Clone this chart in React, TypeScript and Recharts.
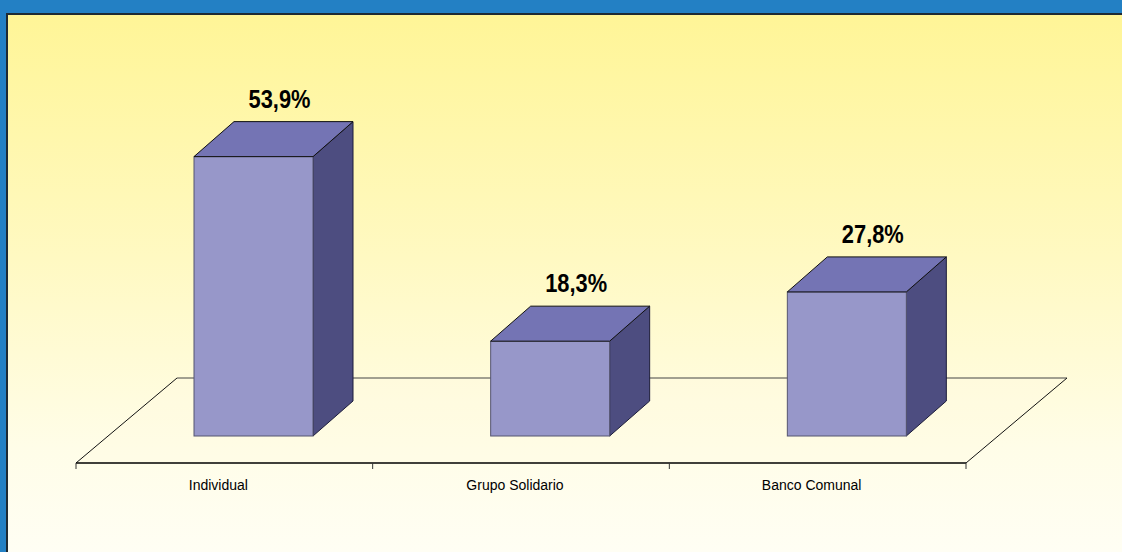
import { BarChart, Bar, XAxis, YAxis, LabelList } from "recharts";

const categories = ["Individual", "Grupo Solidario", "Banco Comunal"];
const shares = [53.9, 18.3, 27.8];

const data = categories.map((name, i) => ({ name, value: shares[i] }));

const W = 1122;
const H = 552;
const PLOT_LEFT = 76;
const PLOT_RIGHT = 966;
const PLOT_TOP = 125;
const PLOT_BOTTOM = 436;
const AXIS_H = 30;

// floor parallelogram
const FLOOR_Y = 463;
const FLOOR_DX = 101;
const FLOOR_DY = 85;

// bar depth
const SHIFT = 29;
const DX = 40;
const DY = 35;

const FONT = "'Liberation Sans', Arial, sans-serif";

function Box3D(props: any) {
  const { x, y, width, height } = props;
  if (height == null || width == null) return null;
  const fx = x + SHIFT;
  const r = fx + width;
  const b = y + height;
  return (
    <g>
      <polygon
        points={`${r},${y} ${r + DX},${y - DY} ${r + DX},${b - DY} ${r},${b}`}
        fill="#4d4d80"
        stroke="#1c1c3a"
        strokeWidth={1}
      />
      <rect x={fx} y={y} width={width} height={height} fill="#9797c9" stroke="#555570" strokeWidth={1} />
      <polygon
        points={`${fx},${y} ${fx + DX},${y - DY} ${r + DX},${y - DY} ${r},${y}`}
        fill="#7474b4"
        stroke="#111"
        strokeWidth={1}
      />
    </g>
  );
}

function ValueLabel(props: any) {
  const { x, y, width, value } = props;
  const txt = Number(value).toFixed(1).replace(".", ",") + "%";
  const cx = x + width / 2 + SHIFT + 26;
  const cy = y - DY - 14;
  return (
    <text
      x={cx}
      y={cy}
      transform={`translate(${cx} ${cy}) scale(0.95 1.1) translate(${-cx} ${-cy})`}
      textAnchor="middle"
      fontFamily={FONT}
      fontWeight="bold"
      fontSize={23}
      fill="#000"
    >
      {txt}
    </text>
  );
}

function CatTick(props: any) {
  const { x, payload } = props;
  return (
    <text x={x - 6} y={FLOOR_Y + 27} textAnchor="middle" fontFamily={FONT} fontSize={14} fill="#000">
      {payload.value}
    </text>
  );
}

function Floor() {
  const step = (PLOT_RIGHT - PLOT_LEFT) / categories.length;
  const ticks = Array.from({ length: categories.length + 1 }, (_, i) => PLOT_LEFT + i * step);
  const bl = PLOT_LEFT + FLOOR_DX;
  const br = PLOT_RIGHT + FLOOR_DX;
  const by = FLOOR_Y - FLOOR_DY;
  return (
    <svg width={W} height={H} style={{ position: "absolute", left: 0, top: 0 }}>
      <polygon
        points={`${PLOT_LEFT},${FLOOR_Y} ${PLOT_RIGHT},${FLOOR_Y} ${br},${by} ${bl},${by}`}
        fill="#fffbe0"
        fillOpacity={0.4}
        stroke="none"
      />
      <line x1={bl} y1={by} x2={br} y2={by} stroke="#444" strokeWidth={1} />
      <line x1={PLOT_LEFT} y1={FLOOR_Y} x2={bl} y2={by} stroke="#111" strokeWidth={1} />
      <line x1={PLOT_RIGHT} y1={FLOOR_Y} x2={br} y2={by} stroke="#111" strokeWidth={1} />
      <line x1={PLOT_LEFT} y1={FLOOR_Y} x2={PLOT_RIGHT} y2={FLOOR_Y} stroke="#000" strokeWidth={1.5} />
      {ticks.map((t, i) => (
        <line key={i} x1={t} y1={FLOOR_Y} x2={t} y2={FLOOR_Y + 6} stroke="#333" strokeWidth={1} />
      ))}
    </svg>
  );
}

export default function App() {
  return (
    <div style={{ position: "absolute", left: 0, top: 0, width: W, height: H, background: "#2380c4", overflow: "hidden" }}>
      <div
        style={{
          position: "absolute",
          left: 6,
          top: 13,
          right: -4,
          bottom: -4,
          borderTop: "2px solid #1e2a33",
          borderLeft: "2px solid #1e2a33",
          background: "linear-gradient(to bottom, #fff597 0%, #fff9c2 45%, #fffde8 80%, #fffef4 100%)",
        }}
      />
      <Floor />
      <div style={{ position: "absolute", left: 0, top: 0 }}>
        <BarChart
          width={W}
          height={H}
          data={data}
          margin={{ top: PLOT_TOP, left: PLOT_LEFT, right: W - PLOT_RIGHT, bottom: H - PLOT_BOTTOM - AXIS_H }}
        >
          <XAxis dataKey="name" height={AXIS_H} axisLine={false} tickLine={false} interval={0} tick={<CatTick />} />
          <YAxis hide domain={[0, 60]} />
          <Bar dataKey="value" barSize={119} shape={<Box3D />} isAnimationActive={false}>
            <LabelList dataKey="value" content={<ValueLabel />} />
          </Bar>
        </BarChart>
      </div>
    </div>
  );
}
